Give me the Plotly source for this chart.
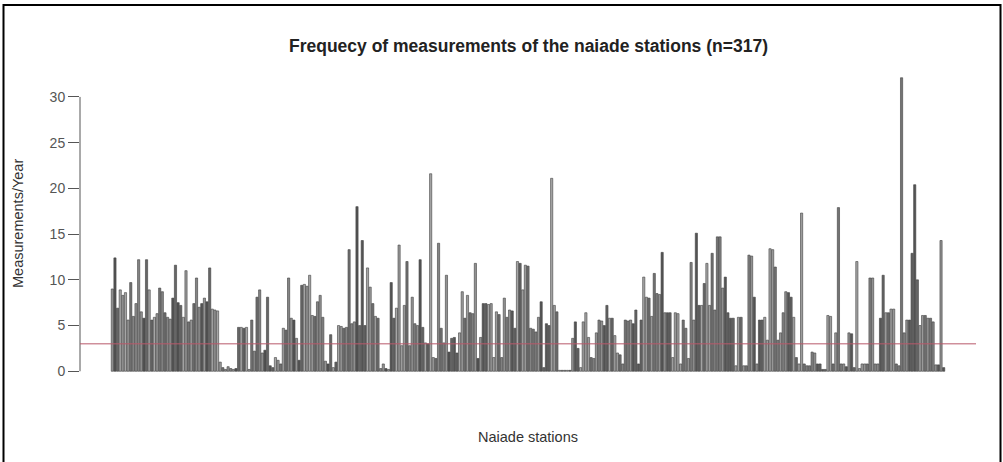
import plotly.graph_objects as go

# ---- data (measurements per year for each of the 317 naiade stations) ----
seg1 = [9.0, 12.4, 6.9, 8.9, 8.3, 8.6, 5.6, 9.7, 6.0, 7.4, 12.2, 6.5, 5.8, 12.2, 8.9,
        5.6, 5.9, 6.3, 9.1, 8.7, 6.4, 5.9, 5.7, 8.0, 11.6, 7.5, 7.2, 5.9, 11.0, 5.4,
        5.6, 7.4, 10.2, 7.0, 7.4, 8.0, 7.6, 11.3, 6.8, 6.7, 6.6, 1.0, 0.4, 0.2, 0.5,
        0.3, 0.2, 0.3, 4.8, 4.8, 4.7, 4.8, 0.2]
seg2 = [5.6, 2.2, 8.1, 8.9, 2.0, 2.3, 8.1, 0.6, 0.4, 1.5, 1.2, 0.8, 4.7, 4.5, 10.2,
        5.8, 5.6, 3.6, 1.2, 9.4, 9.5, 9.3, 10.5, 6.1, 6.0, 7.6, 8.3, 5.9, 1.1, 0.8,
        4.0, 0.4, 1.0, 5.0, 4.9, 4.7, 4.8, 13.3, 5.2, 5.4, 18.0, 5.0, 14.3, 5.0, 11.3,
        9.2, 7.4, 6.0, 5.8, 0.3, 0.8, 0.3, 0.2]
seg3 = [9.7, 5.8, 6.9, 13.8, 2.8, 7.2, 12.0, 2.8, 8.1, 5.2, 5.0, 12.2, 4.8, 3.1, 3.0,
        21.6, 1.5, 1.4, 14.0, 4.7, 3.1, 10.5, 2.1, 3.6, 3.7, 2.0, 4.2, 8.7, 5.8, 8.3,
        6.4, 6.3, 11.8, 1.4, 3.7, 7.4, 7.4, 7.3, 7.4, 1.5, 6.5, 6.2, 1.5, 8.0, 5.9,
        6.7, 6.6, 4.7, 12.0, 11.8, 8.9, 11.6, 11.5]
seg4 = [4.7, 4.6, 4.3, 5.9, 7.6, 0.4, 5.2, 5.0, 21.1, 7.2, 6.5, 0.1, 0.1, 0.1, 0.1,
        0.1, 3.6, 5.4, 2.5, 0.4, 5.4, 6.4, 3.7, 1.5, 1.4, 4.2, 5.6, 5.5, 5.0, 7.2,
        5.8, 5.8, 3.9, 2.0, 1.8, 0.8, 5.6, 5.5, 5.6, 5.2, 6.7, 0.8, 5.6, 10.3, 8.1,
        8.0, 6.0, 10.7, 8.5, 8.4, 13.0, 6.4, 6.4]
seg5 = [6.4, 1.5, 6.4, 6.3, 0.8, 5.6, 4.7, 1.4, 11.9, 5.6, 15.1, 7.2, 7.2, 9.6, 11.8,
        7.2, 12.9, 6.7, 14.7, 14.7, 9.1, 10.3, 6.4, 5.8, 5.8, 0.6, 5.9, 5.9, 0.6, 0.6,
        12.7, 12.6, 8.1, 0.8, 5.6, 5.6, 5.9, 3.4, 13.4, 13.3, 11.4, 3.4, 4.2, 6.4, 8.7,
        8.6, 8.1, 5.9, 1.5, 0.8, 17.3, 0.8, 0.6, 0.6]
seg6 = [2.1, 2.0, 0.8, 0.8, 0.2, 0.2, 6.1, 6.0, 0.8, 4.2, 17.9, 0.8, 0.8, 0.5, 4.2,
        4.1, 0.4, 12.0, 0.3, 0.8, 0.8, 0.8, 10.2, 10.2, 0.8, 0.8, 5.8, 10.5, 6.4, 6.4,
        6.8, 6.8, 0.8, 0.6, 32.1, 4.2, 5.6, 5.6, 12.9, 20.4, 10.0, 5.0, 6.1, 6.1, 5.8,
        5.8, 5.4, 0.7, 0.7, 14.3, 0.4]
measurements = seg1 + seg2 + seg3 + seg4 + seg5 + seg6
stations = list(range(len(measurements)))
threshold = 3
y_ticks = [0, 5, 10, 15, 20, 25, 30]

title_text = "Frequecy of measurements of the naiade stations (n=" + str(len(measurements)) + ")"
x_label = "Naiade stations"
y_label = "Measurements/Year"

# ---- styling ----
grays = ["#939393", "#737373", "#a6a6a6", "#555555", "#858585", "#9c9c9c", "#666666"]
bar_colors = [grays[(i * 3 + i // 5) % len(grays)] for i in stations]

W, H = 1003, 462
L, R, T, B = 80, 27, 66, 79
pw, ph = W - L - R, H - T - B

n = len(measurements)
ext = 0.04 * n * 0.93
xr = [-0.5 - ext, n - 0.5 + ext]
ymax = max(measurements)
yr = [-0.04 * ymax, ymax * 1.04]

def px(xpix):
    return (xpix - L) / pw

def py(ypix):
    return (H - B - ypix) / ph

fig = go.Figure()
fig.add_trace(go.Bar(
    x=stations, y=measurements,
    marker=dict(color=bar_colors, line=dict(color="#404040", width=0.6)),
    showlegend=False, hoverinfo="y",
))

fig.update_layout(
    width=W, height=H,
    margin=dict(l=L, r=R, t=T, b=B),
    paper_bgcolor="white", plot_bgcolor="white",
    bargap=0.167,
    font=dict(family="Liberation Sans, Arial, sans-serif", color="#333333"),
    xaxis=dict(range=xr, showticklabels=False, showgrid=False, zeroline=False,
               showline=False, ticks=""),
    yaxis=dict(range=yr, tickvals=y_ticks, ticks="outside", ticklen=11,
               tickcolor="#555555", tickwidth=1, showgrid=False, zeroline=False,
               showline=False, tickfont=dict(size=14, color="#555555")),
    shapes=[
        # y axis line from 0 to 30 (R style)
        dict(type="line", xref="paper", yref="y", x0=0, x1=0,
             y0=y_ticks[0], y1=y_ticks[-1], line=dict(color="#555555", width=1)),
        # threshold line
        dict(type="line", xref="paper", yref="y", x0=0, x1=1,
             y0=threshold, y1=threshold, line=dict(color="#b8586a", width=1)),
        # image frame
        dict(type="rect", xref="paper", yref="paper",
             x0=px(3.5), x1=px(1000.5), y0=py(475), y1=py(5),
             line=dict(color="black", width=2), fillcolor="rgba(0,0,0,0)", layer="above"),
    ],
    annotations=[
        dict(text="<b>" + title_text + "</b>", xref="paper", yref="paper",
             x=0.5, y=py(46), xanchor="center", yanchor="middle", showarrow=False,
             font=dict(size=17.5, color="#222222")),
        dict(text=x_label, xref="paper", yref="paper", x=0.5, y=py(437),
             xanchor="center", yanchor="middle", showarrow=False,
             font=dict(size=14.5, color="#333333")),
        dict(text=y_label, xref="paper", yref="paper", x=px(18), y=py(224),
             xanchor="center", yanchor="middle", textangle=-90, showarrow=False,
             font=dict(size=14.5, color="#333333")),
    ],
)

fig.write_html("out.html")
